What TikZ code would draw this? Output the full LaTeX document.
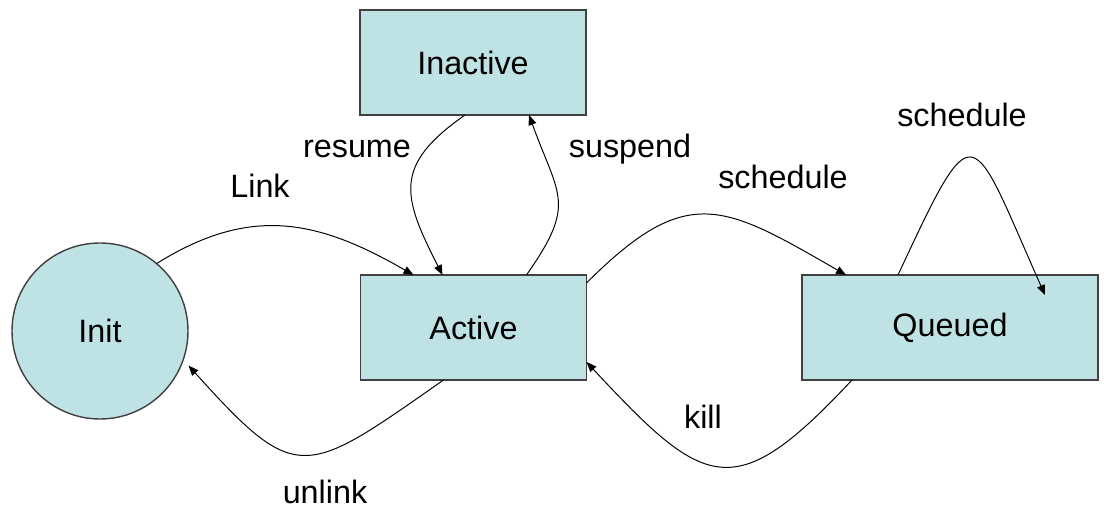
\documentclass[tikz,border=0pt]{standalone}
\usepackage{fontspec}
\setmainfont{Liberation Sans}
\usetikzlibrary{arrows.meta,calc}
\definecolor{statefill}{RGB}{191,226,228}
\definecolor{stateline}{RGB}{64,64,64}

\begin{document}
\begin{tikzpicture}[x=0.25mm, y=0.25mm,
  font=\fontsize{23}{28}\selectfont,
  box/.style={draw=stateline, line width=1pt, fill=statefill, minimum width=56.5mm, minimum height=26.25mm, outer sep=0pt},
  blob/.style={box, circle, minimum size=44mm},
  trans/.style={-{Triangle[length=2.5mm,width=2mm]}, line width=0.7pt}]
  \useasboundingbox (0,0) rectangle (1104,510);
  % states
  \node[blob] (init) at (100,179) {Init};
  \node[box] (inactive) at (473,447.5) {Inactive};
  \node[box] (active) at (473.5,182.5) {Active};
  \node[box, minimum width=74mm] (queued) at (950,182.5) {Queued};
  % transition labels
  \node (lbl-link) at (260,324) {Link};
  \node (lbl-resume) at (357,361) {resume};
  \node (lbl-suspend) at (630,361) {suspend};
  \node (lbl-sched) at (783,333) {schedule};
  \node (lbl-resched) at (962,395) {schedule};
  \node (lbl-kill) at (703,93) {kill};
  \node (lbl-unlink) at (325,18) {unlink};
  % transitions
  \path[trans]
  (init.50) edge[out=32, in=150, looseness=1.1] ($(active.north)+(-60,0)$)
  ($(inactive.south)+(-8,0)$) edge[out=-145, in=117, looseness=1.4] ($(active.north)+(-31,0)$)
  ($(active.north)+(53,0)$) edge[out=55, in=-70, looseness=1.4] ($(inactive.south)+(56,0)$)
  ($(active.north east)+(0,-8)$) edge[out=45, in=150, looseness=1.4] ($(queued.north)+(-104,0)$)
  ($(queued.north)+(-52,0)$) edge[out=65, in=114, looseness=3.2] ($(queued.north)+(95,-20)$)
  ($(queued.south)+(-98,0)$) edge[out=-133, in=-47, looseness=1.67] ($(active.south east)+(0,18)$)
  ($(active.south)+(-30,0)$) edge[out=-145, in=-48, looseness=1.67, shorten >=2mm] (init.-19)
  ;
\end{tikzpicture}
\end{document}
